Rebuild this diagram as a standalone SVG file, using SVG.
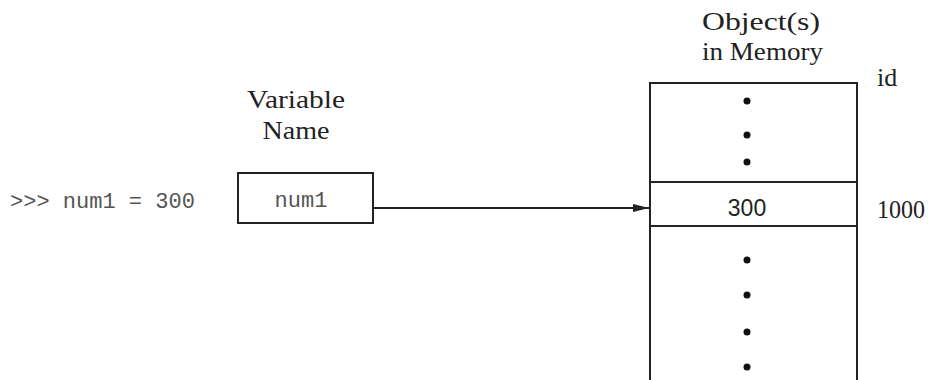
<svg xmlns="http://www.w3.org/2000/svg" width="930" height="380" viewBox="0 0 930 380">
  <defs>
    <style>
      .serif { font-family: "Liberation Serif", "Times New Roman", serif; font-size: 26px; fill: #222; }
      .mono { font-family: "Liberation Mono", "Courier New", monospace; font-size: 22px; fill: #555; }
      .sans { font-family: "Liberation Sans", Arial, sans-serif; font-size: 23px; fill: #222; }
      .box { fill: #fff; stroke: #222; stroke-width: 2; }
      .line { fill: none; stroke: #222; stroke-width: 2; }
      .dot { fill: #111; }
    </style>
    <marker id="arrow" viewBox="0 0 16 8" refX="16" refY="4" markerWidth="16" markerHeight="8" markerUnits="userSpaceOnUse" orient="auto">
      <path d="M0,0 L16,4 L0,8 Z" fill="#222"/>
    </marker>
  </defs>

  <!-- Python statement -->
  <g id="statement">
    <text class="mono" x="10" y="208">&gt;&gt;&gt; num1 = 300</text>
  </g>

  <!-- Variable name box -->
  <g id="variable">
    <text class="serif" x="296" y="108" text-anchor="middle" textLength="98" lengthAdjust="spacingAndGlyphs">Variable</text>
    <text class="serif" x="296" y="139" text-anchor="middle" textLength="67" lengthAdjust="spacingAndGlyphs">Name</text>
    <rect class="box" x="238" y="173" width="135" height="50"/>
    <text class="mono" x="301" y="207" text-anchor="middle" font-size="21">num1</text>
  </g>

  <!-- Memory block with objects -->
  <g id="memory">
    <text class="serif" x="702" y="30" textLength="118" lengthAdjust="spacingAndGlyphs">Object(s)</text>
    <text class="serif" x="702" y="60" textLength="121" lengthAdjust="spacingAndGlyphs">in Memory</text>
    <text class="serif" x="877" y="86">id</text>
    <path class="line" d="M650,381 V83 H857 V381"/>
    <line class="line" x1="650" y1="182" x2="857" y2="182"/>
    <line class="line" x1="650" y1="226" x2="857" y2="226"/>
    <circle class="dot" cx="747" cy="101" r="3.5"/>
    <circle class="dot" cx="747" cy="135" r="3.5"/>
    <circle class="dot" cx="747" cy="162" r="3.5"/>
    <text class="sans" x="747" y="216" text-anchor="middle">300</text>
    <text class="serif" x="877" y="218" textLength="48" lengthAdjust="spacingAndGlyphs">1000</text>
    <circle class="dot" cx="747" cy="260" r="3.5"/>
    <circle class="dot" cx="747" cy="295" r="3.5"/>
    <circle class="dot" cx="747" cy="332" r="3.5"/>
    <circle class="dot" cx="747" cy="367" r="3.5"/>
  </g>

  <!-- Reference arrow from name to object -->
  <g id="connectors">
    <line class="line" x1="373" y1="208" x2="649" y2="208" stroke-width="1.5" marker-end="url(#arrow)"/>
  </g>
</svg>
